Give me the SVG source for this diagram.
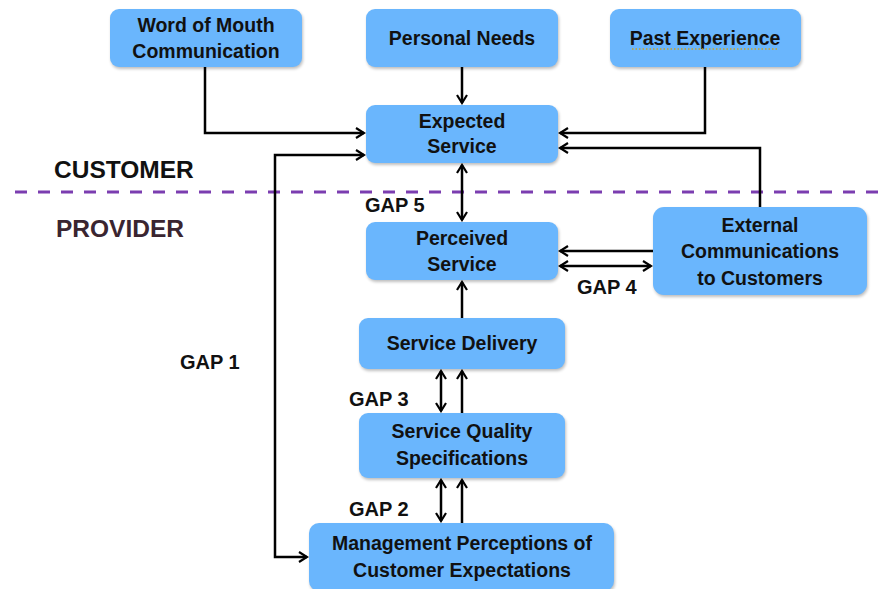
<svg xmlns="http://www.w3.org/2000/svg" width="885" height="589" viewBox="0 0 885 589">
  <style>
    .box { fill: #6AB6FD; }
    .shadow { fill: #000; opacity: 0.25; filter: url(#blur); }
    .lbl { font-family: "Liberation Sans", Arial, sans-serif; font-weight: bold; font-size: 19.5px; fill: #111; text-anchor: middle; }
    .gap { font-family: "Liberation Sans", Arial, sans-serif; font-weight: bold; font-size: 20px; fill: #111; }
    .side { font-family: "Liberation Sans", Arial, sans-serif; font-weight: bold; font-size: 24.5px; }
    .wire { fill: none; stroke: #000; stroke-width: 2.5; }
    .end { marker-end: url(#head); }
    .both { marker-start: url(#head); marker-end: url(#head); }
  </style>
  <defs>
    <filter id="blur" x="-10%" y="-10%" width="120%" height="130%">
      <feGaussianBlur stdDeviation="1.5"/>
    </filter>
    <marker id="head" viewBox="0 0 12 12" refX="10" refY="6" markerWidth="12" markerHeight="12" markerUnits="userSpaceOnUse" orient="auto-start-reverse">
      <path d="M2,1 L10,6 L2,11" fill="none" stroke="#000" stroke-width="2.2"/>
    </marker>
  </defs>

  <rect width="885" height="589" fill="#fff"/>

  <!-- boundary between customer and provider -->
  <line x1="15" y1="192" x2="885" y2="192" stroke="#7B3DB0" stroke-width="3" stroke-dasharray="12 11"/>
  <text class="side" x="54" y="178" fill="#111">CUSTOMER</text>
  <text class="side" x="56" y="237" fill="#3A2530">PROVIDER</text>

  <!-- connectors -->
  <g id="connectors">
    <polyline class="wire end" points="205,67 205,133 364,133"/>
    <line class="wire end" x1="462" y1="67" x2="462" y2="103"/>
    <polyline class="wire end" points="705,67 705,133 560,133"/>
    <polyline class="wire end" points="760,207 760,148 560,148"/>
    <polyline class="wire both" points="307,557 275,557 275,155 364,155"/>
    <line class="wire both" x1="462" y1="165" x2="462" y2="220"/>
    <line class="wire end" x1="653" y1="251" x2="560" y2="251"/>
    <line class="wire both" x1="560" y1="266" x2="651" y2="266"/>
    <line class="wire end" x1="462" y1="318" x2="462" y2="282"/>
    <line class="wire both" x1="441" y1="371" x2="441" y2="411"/>
    <line class="wire end" x1="462" y1="413" x2="462" y2="371"/>
    <line class="wire both" x1="441" y1="480" x2="441" y2="521"/>
    <line class="wire end" x1="462" y1="523" x2="462" y2="480"/>
  </g>

  <!-- gap labels -->
  <text class="gap" x="365" y="212">GAP 5</text>
  <text class="gap" x="577" y="294">GAP 4</text>
  <text class="gap" x="349" y="406">GAP 3</text>
  <text class="gap" x="349" y="516">GAP 2</text>
  <text class="gap" x="180" y="369">GAP 1</text>

  <g id="word-of-mouth">
    <rect class="shadow" x="111" y="11" width="192" height="58" rx="9"/>
    <rect class="box" x="110" y="9" width="192" height="58" rx="9"/>
    <text class="lbl" x="206" y="32">Word of Mouth</text>
    <text class="lbl" x="206" y="58">Communication</text>
  </g>

  <g id="personal-needs">
    <rect class="shadow" x="367" y="11" width="192" height="58" rx="9"/>
    <rect class="box" x="366" y="9" width="192" height="58" rx="9"/>
    <text class="lbl" x="462" y="45">Personal Needs</text>
  </g>

  <g id="past-experience">
    <rect class="shadow" x="611" y="11" width="191" height="58" rx="9"/>
    <rect class="box" x="610" y="9" width="191" height="58" rx="9"/>
    <text class="lbl" x="705" y="45">Past Experience</text>
    <line x1="632" y1="49" x2="778" y2="49" stroke="#C9A227" stroke-width="1.5" stroke-dasharray="1.5 2"/>
  </g>

  <g id="expected-service">
    <rect class="shadow" x="367" y="107" width="192" height="58" rx="9"/>
    <rect class="box" x="366" y="105" width="192" height="58" rx="9"/>
    <text class="lbl" x="462" y="128">Expected</text>
    <text class="lbl" x="462" y="153">Service</text>
  </g>

  <g id="perceived-service">
    <rect class="shadow" x="367" y="224" width="192" height="58" rx="9"/>
    <rect class="box" x="366" y="222" width="192" height="58" rx="9"/>
    <text class="lbl" x="462" y="245">Perceived</text>
    <text class="lbl" x="462" y="271">Service</text>
  </g>

  <g id="external-communications">
    <rect class="shadow" x="654" y="209" width="214" height="88" rx="11"/>
    <rect class="box" x="653" y="207" width="214" height="88" rx="11"/>
    <text class="lbl" x="760" y="232">External</text>
    <text class="lbl" x="760" y="258">Communications</text>
    <text class="lbl" x="760" y="285">to Customers</text>
  </g>

  <g id="service-delivery">
    <rect class="shadow" x="360" y="320" width="206" height="51" rx="9"/>
    <rect class="box" x="359" y="318" width="206" height="51" rx="9"/>
    <text class="lbl" x="462" y="350">Service Delivery</text>
  </g>

  <g id="service-quality-specifications">
    <rect class="shadow" x="360" y="415" width="206" height="65" rx="9"/>
    <rect class="box" x="359" y="413" width="206" height="65" rx="9"/>
    <text class="lbl" x="462" y="438">Service Quality</text>
    <text class="lbl" x="462" y="465">Specifications</text>
  </g>

  <g id="management-perceptions">
    <rect class="shadow" x="310" y="525" width="305" height="68" rx="10"/>
    <rect class="box" x="309" y="523" width="305" height="68" rx="10"/>
    <text class="lbl" x="462" y="550">Management Perceptions of</text>
    <text class="lbl" x="462" y="577">Customer Expectations</text>
  </g>
</svg>
